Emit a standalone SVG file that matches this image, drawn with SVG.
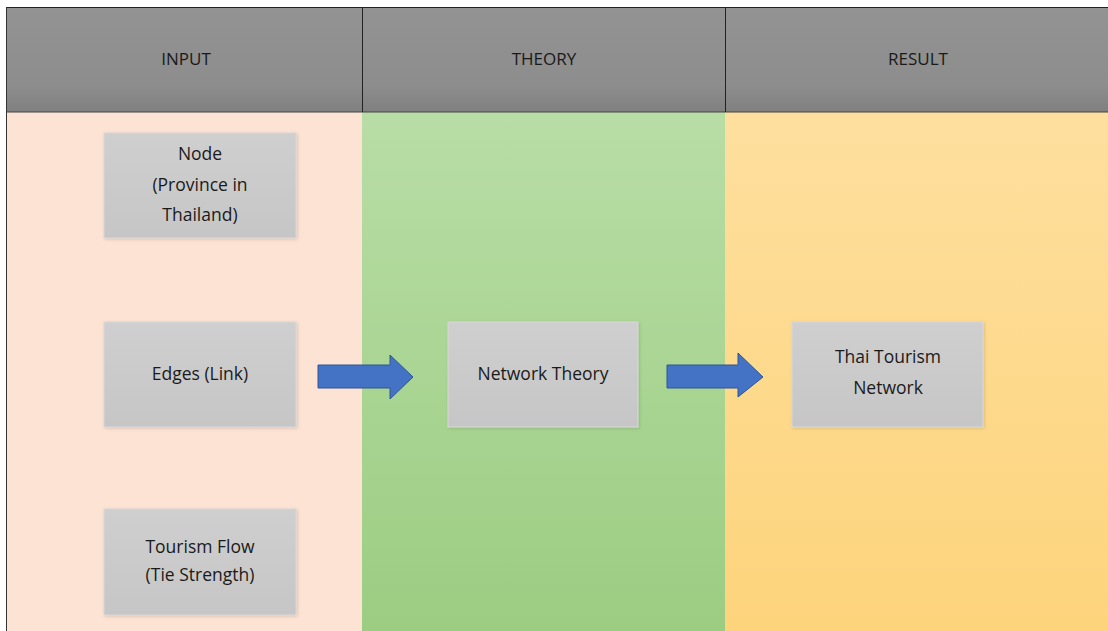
<svg xmlns="http://www.w3.org/2000/svg" width="1108" height="631" viewBox="0 0 1108 631">
  <defs>
    <linearGradient id="hdr" x1="0" y1="0" x2="0" y2="1">
      <stop offset="0" stop-color="#939393"/>
      <stop offset="0.75" stop-color="#8d8d8d"/>
      <stop offset="1" stop-color="#808080"/>
    </linearGradient>
    <linearGradient id="green" x1="0" y1="0" x2="0" y2="1">
      <stop offset="0" stop-color="#b8dda6"/>
      <stop offset="1" stop-color="#9ccd82"/>
    </linearGradient>
    <linearGradient id="orange" x1="0" y1="0" x2="0" y2="1">
      <stop offset="0" stop-color="#fedf9e"/>
      <stop offset="1" stop-color="#fdd47c"/>
    </linearGradient>
    <linearGradient id="box" x1="0" y1="0" x2="0" y2="1">
      <stop offset="0" stop-color="#cfcfcf"/>
      <stop offset="1" stop-color="#c6c6c6"/>
    </linearGradient>
    <filter id="shadow" x="-10%" y="-10%" width="120%" height="120%">
      <feDropShadow dx="1" dy="1" stdDeviation="1.5" flood-color="#000" flood-opacity="0.15"/>
    </filter>
  </defs>
  <style>
    .hd { font-family: "Open Sans", "DejaVu Sans", sans-serif; font-size: 17px; fill: #1a1a1a; text-anchor: middle; }
    .lb { font-family: "Open Sans", "DejaVu Sans", sans-serif; font-size: 17.5px; fill: #1a1a1a; text-anchor: middle; }
    .bx { fill: url(#box); stroke: #d8d8d8; stroke-width: 1; filter: url(#shadow); }
    .arrow { fill: #4472c4; stroke: #2f5597; stroke-width: 1; }
  </style>

  <rect width="1108" height="631" fill="#ffffff"/>

  <!-- column bodies -->
  <rect x="6" y="112" width="356" height="519" fill="#fde3d3"/>
  <rect x="362" y="112" width="363" height="519" fill="url(#green)"/>
  <rect x="725" y="112" width="383" height="519" fill="url(#orange)"/>

  <!-- header band -->
  <g id="header">
    <rect x="6" y="7" width="1102" height="105" fill="url(#hdr)"/>
    <line x1="6" y1="7.5" x2="1108" y2="7.5" stroke="#222" stroke-width="1"/>
    <line x1="6.5" y1="7" x2="6.5" y2="631" stroke="#333" stroke-width="1"/>
    <line x1="6" y1="112" x2="1108" y2="112" stroke="#444" stroke-width="1"/>
    <line x1="362.5" y1="7" x2="362.5" y2="112" stroke="#222" stroke-width="1"/>
    <line x1="725.5" y1="7" x2="725.5" y2="112" stroke="#222" stroke-width="1"/>
    <text class="hd" x="186" y="65">INPUT</text>
    <text class="hd" x="544" y="65">THEORY</text>
    <text class="hd" x="918" y="65">RESULT</text>
  </g>

  <!-- nodes -->
  <g id="node-province">
    <rect class="bx" x="104" y="133" width="192" height="105"/>
    <text class="lb" x="200" y="160">Node</text>
    <text class="lb" x="200" y="191">(Province in</text>
    <text class="lb" x="200" y="221">Thailand)</text>
  </g>
  <g id="node-edges">
    <rect class="bx" x="104" y="322" width="192" height="105"/>
    <text class="lb" x="200" y="380">Edges (Link)</text>
  </g>
  <g id="node-flow">
    <rect class="bx" x="104" y="509" width="192" height="106"/>
    <text class="lb" x="200" y="553">Tourism Flow</text>
    <text class="lb" x="200" y="581">(Tie Strength)</text>
  </g>
  <g id="node-theory">
    <rect class="bx" x="448" y="322" width="190" height="105"/>
    <text class="lb" x="543" y="380">Network Theory</text>
  </g>
  <g id="node-result">
    <rect class="bx" x="792" y="322" width="191" height="105"/>
    <text class="lb" x="888" y="363">Thai Tourism</text>
    <text class="lb" x="888" y="394">Network</text>
  </g>

  <!-- connectors: block arrows -->
  <g id="connectors">
    <path class="arrow" d="M318,365 H390 V355 L413,377 L390,399 V388 H318 Z"/>
    <path class="arrow" d="M667,365 H738 V353 L763,377 L738,397 V388 H667 Z"/>
  </g>
</svg>
